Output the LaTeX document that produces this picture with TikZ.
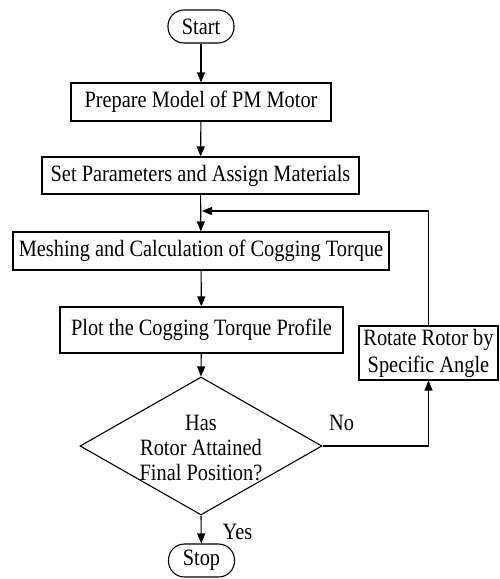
\documentclass[tikz,border=0pt]{standalone}
\usepackage{fontspec}
\setmainfont{Liberation Serif}[FakeStretch=0.87]
\usetikzlibrary{arrows.meta,shapes.geometric}
\begin{document}
\begin{tikzpicture}[x=1pt,y=1pt,
  every node/.style={font=\fontsize{23.4}{25}\selectfont},
  box/.style={draw,line width=1.1pt,rectangle,inner sep=0pt,align=center},
  term/.style={draw,line width=1.1pt,rectangle,rounded corners=16pt,inner sep=0pt,minimum width=66pt,minimum height=33pt},
  flow/.style={line width=1.1pt,-{Triangle[length=10pt,width=8pt]}},
  lbl/.style={inner sep=0pt}]
\useasboundingbox (0,0) rectangle (499,-579);
\node[term] (start) at (201,-26.5) {Start};
\node[box,minimum width=260pt,minimum height=38pt] (prep) at (201,-102) {Prepare Model of PM Motor};
\node[box,minimum width=317pt,minimum height=37pt] (set) at (200.5,-175.5) {Set Parameters and Assign Materials};
\node[box,minimum width=376pt,minimum height=38pt] (mesh) at (201,-251) {Meshing and Calculation of Cogging Torque};
\node[box,minimum width=283pt,minimum height=46pt] (plot) at (201.5,-330) {Plot the Cogging Torque Profile};
\node[diamond,draw,line width=1.1pt,inner sep=0pt,minimum width=242pt,minimum height=138pt] (dec) at (201,-446) {};
\node[align=center,inner sep=0pt] (dectext) at (201,-448) {Has\\Rotor Attained\\Final Position?};
\node[term] (stop) at (201.5,-560.5) {Stop};
\node[box,minimum width=139pt,minimum height=54pt,font=\fontsize{23.4}{27}\selectfont] (rot) at (428.5,-353) {Rotate Rotor by\\Specific Angle};
\coordinate (j) at (202,-211);
\draw[flow] (start) -- (prep);
\draw[flow] (prep) -- (set);
\draw[flow] (set) -- (mesh);
\draw[flow] (mesh) -- (plot);
\draw[flow] (plot) -- (dec.north);
\draw[flow] (dec.south) -- (stop) node[lbl,pos=0.57,right=21pt] {Yes};
\draw[flow] (dec.east) -| (rot.south) node[lbl,pos=0.09,above=15pt] {No};
\draw[flow] (rot.north) |- (j);
\end{tikzpicture}
\end{document}
